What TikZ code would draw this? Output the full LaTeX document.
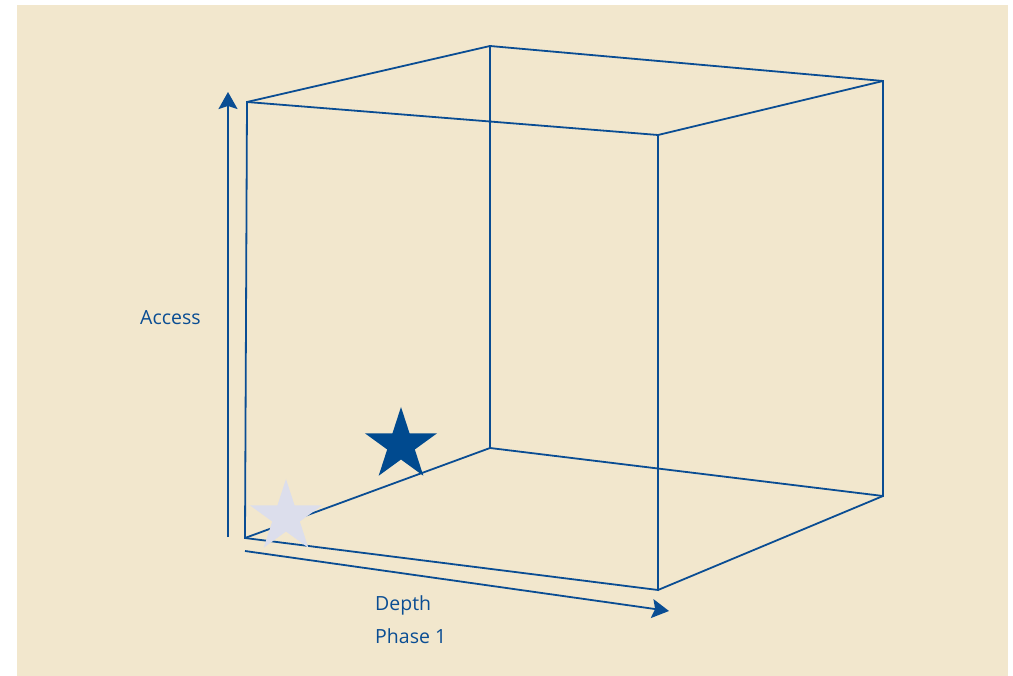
\documentclass[tikz,border=0pt]{standalone}
\usepackage{fontspec}
\setmainfont{Open Sans}
\usetikzlibrary{arrows.meta,positioning,shapes.geometric}
\definecolor{Paper}{HTML}{F2E7CD}
\definecolor{CubeBlue}{HTML}{0A4D93}
\definecolor{StarDark}{HTML}{004A8F}
\definecolor{StarPale}{HTML}{DCDEEC}

\begin{document}
\begin{tikzpicture}[
    x=1pt, y=-1pt,
    edge/.style={draw=CubeBlue, line width=1.8pt},
    axis/.style={draw=CubeBlue, line width=1.8pt,
      -{Stealth[length=17pt,width=19pt,inset=3pt]}},
    axislabel/.style={text=CubeBlue, inner sep=0pt, anchor=base west,
      font=\fontsize{19.5}{22}\selectfont},
    starmark/.style={star, star points=5, star point ratio=2.618,
      minimum size=76pt, inner sep=0pt, draw=none}
  ]
  \useasboundingbox (0,0) rectangle (1013,676);
  \fill[Paper] (17,5) rectangle (1008,676);

  % cube corners
  \coordinate (ftl) at (247,102);
  \coordinate (ftr) at (658,135);
  \coordinate (fbr) at (658,590);
  \coordinate (fbl) at (245,538);
  \coordinate (btl) at (490,46);
  \coordinate (btr) at (883,81);
  \coordinate (bbr) at (883,496);
  \coordinate (bbl) at (490,448);

  % back face and depth edges
  \draw[edge] (btl) -- (btr) -- (bbr) -- (bbl) -- cycle;
  \draw[edge] (ftl) -- (btl);
  \draw[edge] (ftr) -- (btr);
  \draw[edge] (fbr) -- (bbr);
  \draw[edge] (fbl) -- (bbl);
  % front face
  \draw[edge] (ftl) -- (ftr) -- (fbr) -- (fbl) -- cycle;

  % axes
  \coordinate (accessfoot) at (228,537);
  \coordinate (accesshead) at (228,92);
  \coordinate (depthfoot) at (245,551);
  \coordinate (depthhead) at (669,611);
  \draw[axis] (accessfoot) -- (accesshead);
  \draw[axis] (depthfoot) -- (depthhead);

  \node[axislabel] (access) at (140,325) {Access};
  \node[axislabel] (depth) at (375,610) {Depth};
  \node[axislabel] (phase) at (375,643) {Phase 1};

  % stars
  \node[starmark, fill=StarPale] (startpoint) at (286,517) {};
  \node[starmark, fill=StarDark] (nextpoint) at (401,445) {};
\end{tikzpicture}
\end{document}
